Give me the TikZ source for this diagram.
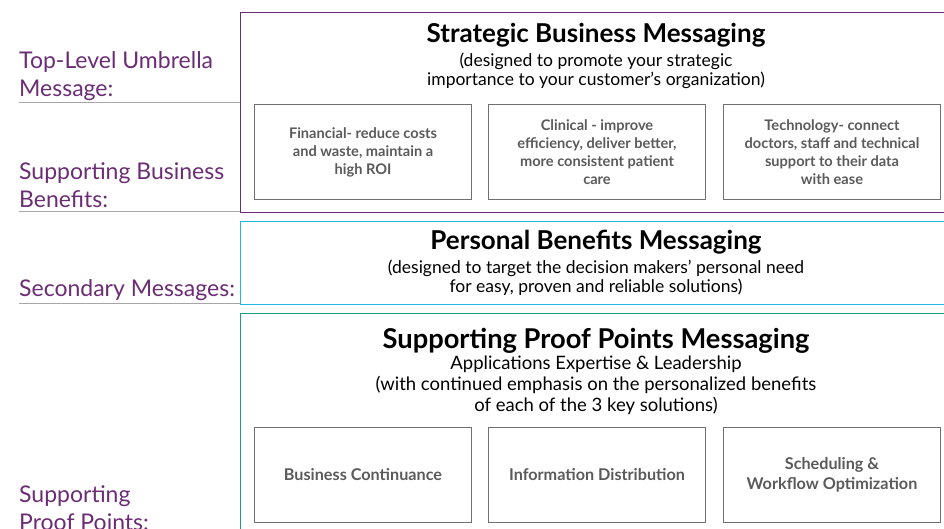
\documentclass[tikz,border=0pt]{standalone}
\usepackage{fontspec}
\setmainfont{Lato}
\usetikzlibrary{positioning}
\definecolor{plum}{HTML}{6B2D74}
\definecolor{skyline}{HTML}{22B5E0}
\definecolor{proofgreen}{HTML}{1A9E86}
\definecolor{boxgray}{HTML}{707070}
\definecolor{textgray}{HTML}{5A5A5A}
\definecolor{rulegray}{HTML}{A6A6A6}
\tikzstyle{tier} = [rectangle, draw, line width=1.4pt, anchor=north west, minimum width=712pt, inner sep=0pt]
\tikzstyle{heading} = [font=\bfseries\fontsize{26}{30}\selectfont, anchor=base, inner sep=0pt]
\tikzstyle{subline} = [font=\fontsize{17.5}{18.5}\selectfont, align=center, anchor=north, inner sep=0pt]
\tikzstyle{benefit} = [rectangle, draw=boxgray, line width=1pt, text=textgray, font=\bfseries\fontsize{14.6}{18}\selectfont, align=center, minimum width=217pt, minimum height=95pt, anchor=north west]
\tikzstyle{solution} = [benefit, font=\bfseries\fontsize{16.2}{20}\selectfont]
\tikzstyle{caption} = [text=plum, font=\fontsize{23}{28}\selectfont, align=left, anchor=north west, inner sep=0pt]
\tikzstyle{rule} = [draw=rulegray, line width=1pt]

\begin{document}
\begin{tikzpicture}[x=1pt, y=-1pt]
    \useasboundingbox (0,0) rectangle (944,529);
    \clip (0,0) rectangle (944,529);

    % captions on the left
    \node[caption] (umbrellaLabel) at (19,51) {Top-Level Umbrella\\Message:};
    \node[caption] (businessLabel) at (19,162) {Supporting Business\\Benefits:};
    \node[caption] (secondaryLabel) at (19,279) {Secondary Messages:};
    \node[caption] (proofLabel) at (19,485) {Supporting\\Proof Points:};

    \draw[rule] (umbrellaLabel.west |- 0,103) -- (240,103);
    \draw[rule] (businessLabel.west |- 0,212) -- (240,212);
    \draw[rule] (secondaryLabel.west |- 0,303) -- (240,303);

    % the three tiers
    \node[tier, draw=plum, minimum height=200pt] (strategic) at (240,12) {};
    \node[tier, draw=skyline, minimum height=83pt] (personal) at (240,221) {};
    \node[tier, draw=proofgreen, minimum height=230pt] (proof) at (240,313) {};

    \node[heading] (strategicTitle) at (596,43) {Strategic Business Messaging};
    \node[subline] (strategicSub) at (596,53) {(designed to promote your strategic\\importance to your customer’s organization)};

    \node[heading] (personalTitle) at (596,250) {Personal Benefits Messaging};
    \node[subline] (personalSub) at (596,260) {(designed to target the decision makers’ personal need\\for easy, proven and reliable solutions)};

    \node[heading, font=\bfseries\fontsize{27.3}{30}\selectfont] (proofTitle) at (596,348) {Supporting Proof Points Messaging};
    \node[subline, font=\fontsize{18.5}{21}\selectfont] (proofSub) at (596,356) {Applications Expertise \& Leadership\\(with continued emphasis on the personalized benefits\\of each of the 3 key solutions)};

    % benefit boxes
    \node[benefit] (financial) at (254,104) {Financial- reduce costs\\and waste, maintain a\\high ROI};
    \node[benefit, right = 16pt of financial] (clinical) {Clinical - improve\\efficiency, deliver better,\\more consistent patient\\care};
    \node[benefit, right = 17pt of clinical] (technology) {Technology- connect\\doctors, staff and technical\\support to their data\\with ease};

    % solution boxes
    \node[solution] (continuance) at (254,427) {Business Continuance};
    \node[solution, right = 16pt of continuance] (distribution) {Information Distribution};
    \node[solution, right = 17pt of distribution] (scheduling) {Scheduling \&\\Workflow Optimization};
\end{tikzpicture}
\end{document}
